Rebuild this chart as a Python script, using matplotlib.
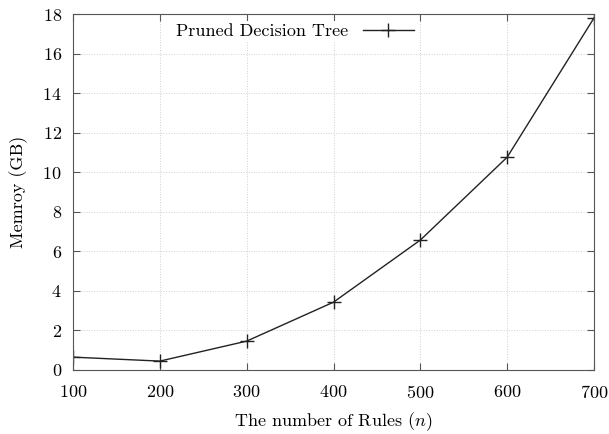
import matplotlib
matplotlib.use('Agg')
import matplotlib.pyplot as plt

plt.rcParams['font.family'] = 'cmr10'
plt.rcParams['mathtext.fontset'] = 'cm'
plt.rcParams['axes.formatter.use_mathtext'] = True

rules = [100, 200, 300, 400, 500, 600, 700]
memory = [0.65, 0.45, 1.46, 3.43, 6.57, 10.76, 17.8]

fig = plt.figure(figsize=(6.09, 4.34), dpi=100)
ax = fig.add_axes([73/609, 64/434, 521/609, 356/434])

ax.plot(rules, memory, color='#222222', lw=1.0, marker='+', markersize=10,
        markeredgewidth=1.0, label='Pruned Decision Tree')

ax.set_xlim(100, 700)
ax.set_ylim(0, 18)
ax.set_xticks(rules)
ax.set_yticks(range(0, 19, 2))
ax.grid(True, color='#d0d0d0', linestyle=':', lw=0.7)
ax.tick_params(direction='in', top=True, right=True, length=5, labelsize=13,
               color='#555555')
ax.tick_params(axis='x', pad=10)
ax.tick_params(axis='y', pad=8)
for s in ax.spines.values():
    s.set_color('#555555')

ax.set_xlabel('The number of Rules ($n$)', fontsize=13, labelpad=7)
ax.set_ylabel('Memroy (GB)', fontsize=13, labelpad=10)

leg = ax.legend(loc='center', bbox_to_anchor=(0.426, 0.952), frameon=True,
                markerfirst=False, fontsize=13, handlelength=2.8,
                fancybox=False, borderpad=0.1, borderaxespad=0)
leg.get_frame().set_edgecolor('none')
leg.get_frame().set_facecolor('white')
leg.get_frame().set_alpha(1.0)

fig.savefig('out.png')
